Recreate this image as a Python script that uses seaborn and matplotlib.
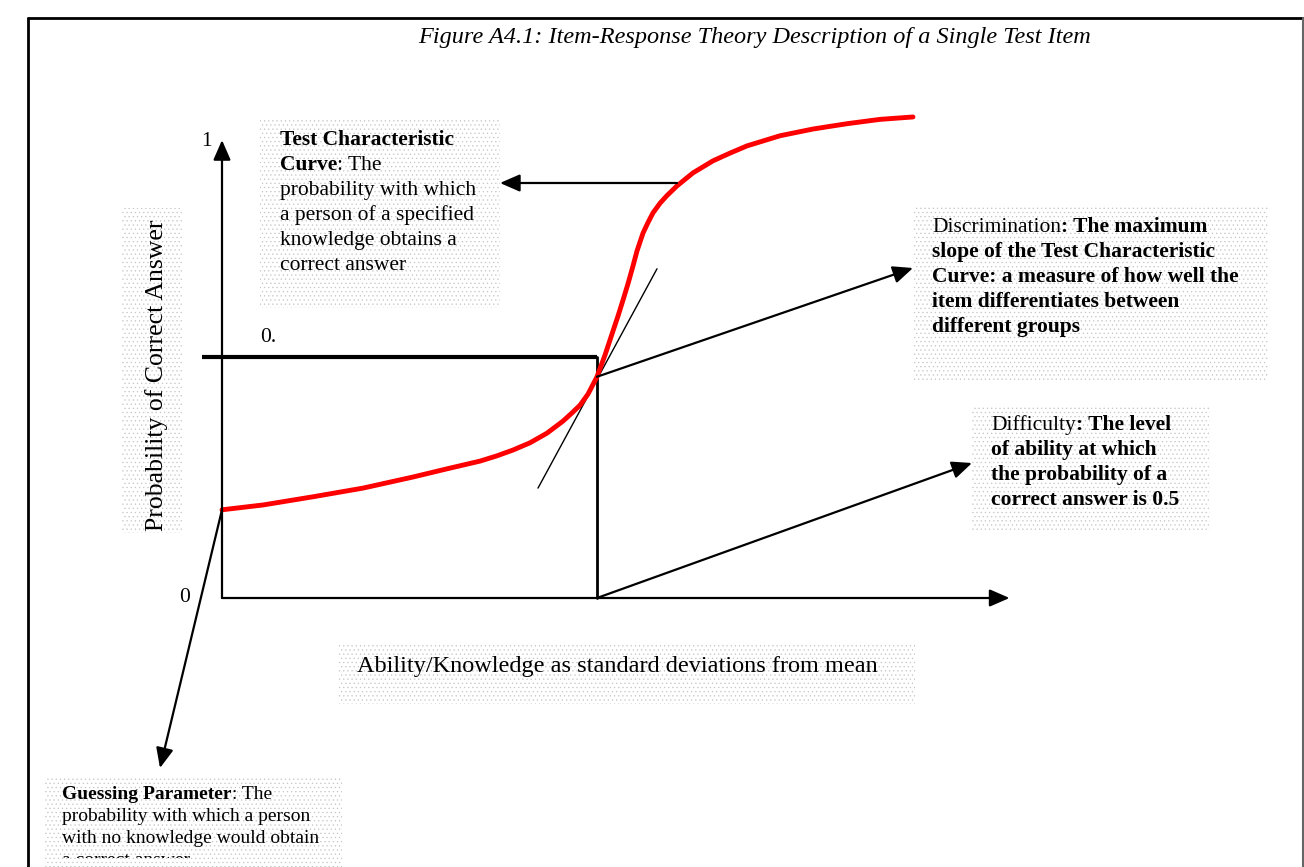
import seaborn as sns
import matplotlib.pyplot as plt
from matplotlib.patches import Rectangle
from matplotlib.lines import Line2D
from matplotlib.transforms import Bbox, TransformedBbox

# Data: item characteristic curve
# ability in standard deviations (difficulty at 0), probability of a correct answer
ability = [-3.000, -2.672, -2.272, -1.872, -1.472, -1.200, -0.936, -0.800, -0.672,
           -0.536, -0.400, -0.272, -0.200, -0.136, -0.072, 0.000, 0.064, 0.128, 0.168,
           0.208, 0.248, 0.288, 0.320, 0.368, 0.408, 0.448, 0.504, 0.560, 0.640, 0.768,
           0.928, 1.064, 1.200, 1.464, 1.728, 2.000, 2.264, 2.528]
prob = [0.183, 0.193, 0.210, 0.228, 0.251, 0.268, 0.284, 0.295, 0.307,
        0.322, 0.342, 0.367, 0.384, 0.400, 0.423, 0.459, 0.504, 0.554, 0.585,
        0.618, 0.652, 0.689, 0.720, 0.757, 0.779, 0.799, 0.819, 0.835, 0.855, 0.882,
        0.907, 0.923, 0.938, 0.959, 0.973, 0.984, 0.993, 0.998]

axis_min_ability = -3.0
axis_max_ability = 3.3
axis_max_prob = 0.95
difficulty = 0.0
half_prob = 0.5
half_line_start = -3.16
tangent_ability = [-0.472, 0.48]
tangent_prob = [0.228, 0.683]
guessing = 0.183
curve_point = (0.64, 0.861)
disc_point = (0.0, 0.459)

sns.set_theme(style="white")
plt.rcParams['font.family'] = ['Liberation Serif', 'DejaVu Serif']
plt.rcParams['text.color'] = 'black'
plt.rcParams['hatch.linewidth'] = 0.4

W, H = 1304, 867
fig = plt.figure(figsize=(W / 100, H / 100), dpi=100)
ax = fig.add_axes([0, 0, 1, 1])
# axes scale: 125 px per sd with difficulty at x=597px; 482 px per unit prob, zero at y=598px
ax.set_xlim(-597 / 125, (W - 597) / 125)
ax.set_ylim((598 - H) / 482, 598 / 482)
ax.axis('off')


def fp(x, y):
    # pixel position (from top-left) -> figure fraction
    return (x / W, 1 - y / H)


# page border
fig.add_artist(Line2D([28 / W, 28 / W], [0, 1 - 18 / H], color='black', lw=2))
fig.add_artist(Line2D([28 / W, 1], [1 - 18 / H, 1 - 18 / H], color='black', lw=2))
fig.add_artist(Line2D([1303 / W, 1303 / W], [0, 1 - 18 / H], color='#666666', lw=1.5))

# dotted text boxes
boxes = [(260, 120, 500, 308), (913, 207, 1268, 381), (972, 405, 1210, 532),
         (45, 777, 342, 867), (122, 208, 182, 533), (338, 645, 915, 704)]
for x0, y0, x1, y1 in boxes:
    fig.add_artist(Rectangle(fp(x0, y1), (x1 - x0) / W, (y1 - y0) / H,
                             transform=fig.transFigure, facecolor='white',
                             edgecolor='#c4c4c4', lw=0, hatch='....', zorder=0))

# axes of the diagram
arrow_kw = dict(arrowstyle='-|>,head_length=0.55,head_width=0.24', mutation_scale=22,
                lw=1.6, color='black', shrinkA=0, shrinkB=0)
ax.annotate('', xy=(axis_min_ability, axis_max_prob), xytext=(axis_min_ability, 0),
            arrowprops=arrow_kw)
ax.annotate('', xy=(axis_max_ability, 0), xytext=(axis_min_ability, 0), arrowprops=arrow_kw)

# 0.5 level and difficulty
ax.plot([half_line_start, difficulty], [half_prob, half_prob], color='black', lw=3,
        solid_capstyle='butt')
ax.plot([difficulty, difficulty], [0, half_prob], color='black', lw=2)
# tangent (discrimination)
ax.plot(tangent_ability, tangent_prob, color='black', lw=1)

# characteristic curve
sns.lineplot(x=ability, y=prob, ax=ax, color='red', lw=3.5, sort=False, estimator=None)

# pointer arrows
ax.annotate('', xy=fp(500, 183), xycoords='figure fraction', xytext=curve_point,
            textcoords='data', arrowprops=arrow_kw)
ax.annotate('', xy=fp(913, 268), xycoords='figure fraction', xytext=disc_point,
            textcoords='data', arrowprops=arrow_kw)
ax.annotate('', xy=fp(972, 463), xycoords='figure fraction', xytext=(difficulty, 0),
            textcoords='data', arrowprops=arrow_kw)
ax.annotate('', xy=fp(160, 768), xycoords='figure fraction',
            xytext=(axis_min_ability, guessing), textcoords='data', arrowprops=arrow_kw)


def runs(x, y, parts, size, clip=None):
    # one line made of bold / normal pieces placed side by side
    last = None
    for txt, bold in parts:
        w = 'bold' if bold else 'normal'
        if last is None:
            t = fig.text(*fp(x, y), txt, fontsize=size, weight=w, va='baseline', ha='left')
        else:
            t = ax.annotate(txt, xy=(1, 0), xycoords=last, va='bottom', ha='left',
                            fontsize=size, weight=w, annotation_clip=False)
        if clip is not None:
            t.set_clip_box(TransformedBbox(Bbox.from_extents(*clip), fig.transFigure))
            t.set_clip_on(True)
        last = t


fs = 15.5
y = 145
for parts in [[('Test Characteristic', True)], [('Curve', True), (': The', False)],
              [('probability with which', False)], [('a person of a specified', False)],
              [('knowledge obtains a', False)], [('correct answer', False)]]:
    runs(280, y, parts, fs)
    y += 25

y = 232
for parts in [[('Discrimination', False), (': The maximum', True)],
              [('slope of the Test Characteristic', True)],
              [('Curve: a measure of how well the', True)],
              [('item differentiates between', True)], [('different groups', True)]]:
    runs(932, y, parts, fs)
    y += 25

y = 430
for parts in [[('Difficulty', False), (': The level', True)], [('of ability at which', True)],
              [('the probability of a', True)], [('correct answer is 0.5', True)]]:
    runs(991, y, parts, fs)
    y += 25

y = 799
clip = (0, 1 - 858 / H, 1, 1)
for parts in [[('Guessing Parameter', True), (': The', False)],
              [('probability with which a person', False)],
              [('with no knowledge would obtain', False)], [('a correct answer', False)]]:
    runs(62, y, parts, 14, clip=clip)
    y += 22

# axis labels and values
fig.text(*fp(157, 375), 'Probability of Correct Answer', rotation=90, fontsize=18.5,
         ha='center', va='center')
fig.text(*fp(357, 672), 'Ability/Knowledge as standard deviations from mean', fontsize=17.5,
         ha='left', va='baseline')
fig.text(*fp(206, 141), '1', fontsize=15.5, ha='center', va='center')
fig.text(*fp(185, 598), '0', fontsize=15.5, ha='center', va='center')
fig.text(*fp(268, 338), '0.', fontsize=15.5, ha='center', va='center')

fig.text(*fp(754, 43), 'Figure A4.1: Item-Response Theory Description of a Single Test Item',
         fontsize=17.5, style='italic', ha='center', va='baseline')

fig.savefig('out.png', dpi=100)
